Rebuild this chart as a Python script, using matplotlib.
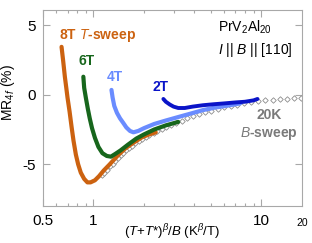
import matplotlib
matplotlib.use("Agg")
import matplotlib.pyplot as plt
from matplotlib.ticker import LogLocator, NullFormatter, FixedLocator

plt.rcParams['font.family'] = ['Liberation Sans', 'DejaVu Sans']
plt.rcParams['mathtext.fontset'] = 'custom'
plt.rcParams['mathtext.rm'] = 'Liberation Sans'
plt.rcParams['mathtext.it'] = 'Liberation Sans:italic'
plt.rcParams['mathtext.bf'] = 'Liberation Sans:bold'

# ---- data ----
x_8T = [0.645, 0.66, 0.675, 0.69, 0.70, 0.72, 0.74, 0.76, 0.785, 0.81, 0.84, 0.88,
        0.92, 0.96, 1.02, 1.08, 1.15, 1.25, 1.4, 1.55, 1.73, 1.95, 2.15, 2.35]
y_8T = [3.45, 2.4, 1.3, 0.4, -0.2, -1.2, -2.3, -3.3, -4.3, -5.0, -5.6, -6.05,
        -6.3, -6.3, -6.15, -5.85, -5.45, -5.0, -4.35, -3.85, -3.45, -3.05, -2.85, -2.7]

x_6T = [0.87, 0.88, 0.90, 0.925, 0.95, 0.98, 1.02, 1.07, 1.13, 1.2, 1.27, 1.35,
        1.45, 1.6, 1.8, 2.0, 2.3, 2.7, 3.2]
y_6T = [1.3, 0.5, -0.2, -1.0, -1.7, -2.4, -3.1, -3.75, -4.2, -4.4, -4.45, -4.25,
        -4.0, -3.6, -3.15, -2.85, -2.5, -2.2, -1.95]

x_4T = [1.28, 1.30, 1.33, 1.38, 1.44, 1.5, 1.57, 1.65, 1.73, 1.85, 2.0, 2.3,
        2.7, 3.2, 3.8, 4.5, 5.3, 6.3, 7.5]
y_4T = [0.35, -0.2, -0.8, -1.3, -1.7, -2.0, -2.35, -2.6, -2.7, -2.6, -2.4, -2.1,
        -1.85, -1.6, -1.35, -1.1, -0.92, -0.78, -0.62]

x_2T = [2.61, 2.7, 2.85, 3.0, 3.2, 3.5, 3.9, 4.5, 5.2, 6.0, 7.0, 8.0, 9.0, 9.5]
y_2T = [-0.3, -0.5, -0.7, -0.85, -0.95, -0.95, -0.85, -0.75, -0.68, -0.62,
        -0.55, -0.5, -0.4, -0.3]

x_20K = [1.12, 1.16, 1.2, 1.25, 1.3, 1.35, 1.4, 1.45, 1.5, 1.56, 1.62, 1.7, 1.78,
         1.86, 1.95, 2.05, 2.15, 2.28, 2.4, 2.55, 2.7, 2.9, 3.1, 3.35, 3.6, 3.9,
         4.25, 4.6, 5.0, 5.5, 6.0, 6.6, 7.2, 7.9, 8.7, 9.6, 10.6, 11.7, 12.9,
         14.2, 15.6, 17.2]
y_20K = [-5.8, -5.6, -5.4, -5.15, -4.95, -4.75, -4.55, -4.35, -4.2, -4.0, -3.85,
         -3.65, -3.5, -3.35, -3.2, -3.05, -2.9, -2.75, -2.6, -2.45, -2.3, -2.15,
         -2.0, -1.85, -1.7, -1.55, -1.4, -1.27, -1.13, -1.0, -0.9, -0.8, -0.7,
         -0.62, -0.54, -0.47, -0.41, -0.36, -0.31, -0.27, -0.24, -0.21]

xticks = [0.5, 1, 10]
xticklabels = ['0.5', '1', '10']
yticks = [-5, 0, 5]

c8 = '#CC6210'
c6 = '#17661C'
c4 = '#6A8CFF'
c2 = '#0A14C8'
cg = '#8C8C8C'
cframe = '#A8A8A8'

fig = plt.figure(figsize=(3.12, 2.43), dpi=100)
ax = fig.add_axes([43/312, (243-206)/243, 259/312, 196/243])
ax.set_xscale('log')

ax.plot(x_20K, y_20K, linestyle='none', marker='D', markersize=2.8,
        mfc='white', mec=cg, mew=0.6, zorder=2)
ax.plot(x_8T, y_8T, color=c8, lw=3.0, solid_capstyle='round', solid_joinstyle='round', zorder=3)
ax.plot(x_6T, y_6T, color=c6, lw=3.0, solid_capstyle='round', solid_joinstyle='round', zorder=3)
ax.plot(x_4T, y_4T, color=c4, lw=3.0, solid_capstyle='round', solid_joinstyle='round', zorder=3)
ax.plot(x_2T, y_2T, color=c2, lw=2.8, solid_capstyle='round', solid_joinstyle='round', zorder=4)

ax.set_xlim(0.5, 17.5)
ax.set_ylim(-8, 6.1)

ax.xaxis.set_major_locator(FixedLocator(xticks))
ax.set_xticklabels(xticklabels)
ax.xaxis.set_minor_locator(LogLocator(base=10, subs=[2, 3, 4, 5, 6, 7, 8, 9]))
ax.xaxis.set_minor_formatter(NullFormatter())
ax.set_yticks(yticks)
ax.set_yticklabels(['-5', '0', '5'])

for s in ax.spines.values():
    s.set_color(cframe)
    s.set_linewidth(0.8)
ax.tick_params(which='both', direction='in', top=True, right=True, color=cframe,
               labelsize=11, width=0.8)
ax.tick_params(axis='x', pad=6)
ax.tick_params(axis='y', pad=5)
ax.tick_params(which='major', length=5)
ax.tick_params(which='minor', length=2.5)

ax.text(17.5, -0.06, '20', transform=ax.get_xaxis_transform(), ha='center',
        va='top', fontsize=7.5)

ax.set_ylabel(r'MR$_{4f}$ (%)', fontsize=10)
ax.yaxis.set_label_coords(-0.1, 0.58)
ax.set_xlabel(r'($\it{T}$+$\it{T}$*)$^{\it{\beta}}$/$\it{B}$ (K$^{\it{\beta}}$/T)', fontsize=9.5)
ax.xaxis.set_label_coords(0.5, -0.085)

bold = dict(fontweight='bold', fontsize=10)
ax.text(0.627, 4.3, r'8T $\mathbf{\it{T}}$-sweep', color=c8, va='center', ha='left', **bold)
ax.text(0.814, 2.45, '6T', color=c6, va='center', ha='left', **bold)
ax.text(1.195, 1.3, '4T', color=c4, va='center', ha='left', **bold)
ax.text(2.25, 0.58, '2T', color=c2, va='center', ha='left', **bold)
ax.text(0.873, 0.413, '20K\n' + r'$\mathbf{\it{B}}$-sweep', color='#7A7A7A',
        transform=ax.transAxes, ha='center', va='center', linespacing=1.25, **bold)

ax.text(0.676, 0.913, r'PrV$_2$Al$_{20}$', transform=ax.transAxes, ha='left',
        va='center', fontsize=10)
ax.text(0.676, 0.796, r'$\it{I}$ || $\it{B}$ || [110]', transform=ax.transAxes,
        ha='left', va='center', fontsize=10)

fig.savefig('out.png', dpi=100)
